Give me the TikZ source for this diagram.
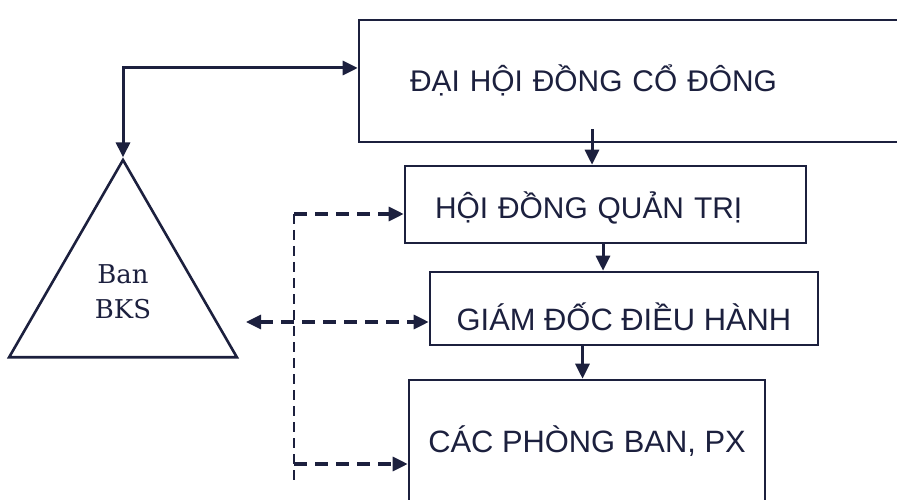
\documentclass[tikz,border=0pt]{standalone}
\usepackage{fontspec}
\setmainfont{Liberation Sans}
\newfontfamily\bksfont{DejaVu Serif}
\usetikzlibrary{arrows.meta,shapes.geometric}
\definecolor{ink}{RGB}{28,32,62}

\begin{document}
\begin{tikzpicture}[x=1bp,y=-1bp,
  box/.style={draw=ink, line width=2.6bp, rectangle, inner sep=0pt, text=ink,
    font=\fontsize{30}{36}\selectfont, text depth=0pt},
  tip/.tip={Triangle[length=15bp,width=14bp]},
  link/.style={draw=ink, line width=3bp, -tip},
  biglink/.style={draw=ink, line width=3bp, tip-tip},
  hdash/.style={draw=ink, line width=3.2bp, dash pattern=on 13bp off 8bp, -tip},
  hdashboth/.style={draw=ink, line width=3.2bp, dash pattern=on 13bp off 8bp, tip-tip},
  vdash/.style={draw=ink, line width=2.6bp, dash pattern=on 10bp off 6bp},
  council/.style={draw=ink, line width=2.6bp, regular polygon, regular polygon sides=3,
    minimum size=263bp, inner sep=0pt, align=center, text=ink,
    font=\bksfont\fontsize{26}{35}\selectfont}
]
\useasboundingbox (0,0) rectangle (897,500);

% governing bodies
\node[box, minimum width=560bp, minimum height=122bp, text width=458bp,
      inner xsep=51bp, align=left, text height=22bp] (dhd) at (639,81)
  {ĐẠI HỘI ĐỒNG CỔ ĐÔNG};
\node[box, minimum width=401bp, minimum height=77bp, text width=341bp,
      inner xsep=30bp, align=left, text height=28bp] (hdqt) at (605.5,204.5)
  {HỘI ĐỒNG QUẢN TRỊ};
\node[box, minimum width=388bp, minimum height=73bp, text height=44bp,
      font=\fontsize{31}{36}\selectfont] (gd) at (624,308.5)
  {GIÁM ĐỐC ĐIỀU HÀNH};
\node[box, minimum width=356bp, minimum height=122bp, text height=22bp,
      font=\fontsize{31}{36}\selectfont] (pb) at (587,441)
  {CÁC PHÒNG BAN, PX};

% supervisory board
\node[council] (bks) at (123,291.5) {Ban\\BKS};

% chain of command
\path ([xshift=-47bp,yshift=14bp]dhd.south) coordinate (a1);
\draw[link] (a1) -- (a1 |- hdqt.north);
\path ([xshift=-2.5bp]hdqt.south) coordinate (a2);
\draw[link] (a2) -- (a2 |- gd.north);
\path ([xshift=-41.5bp]gd.south) coordinate (a3);
\draw[link] (a3) -- (a3 |- pb.north);

% shareholders' meeting <-> supervisory board
\draw[biglink] (bks.corner 1) |- ([yshift=13bp]dhd.west);

% supervision lines
\coordinate (bustop) at (294,214);
\coordinate (busend) at (294,482);
\coordinate (busbot) at (294,464);
\coordinate (bksout) at (246,322);
\draw[vdash] (bustop) -- (busend);
\draw[hdash] (bustop) -- (bustop -| hdqt.west);
\draw[hdashboth] (bksout) -- (bksout -| gd.west);
\draw[hdash] (busbot) -- (busbot -| pb.west);
\end{tikzpicture}
\end{document}
